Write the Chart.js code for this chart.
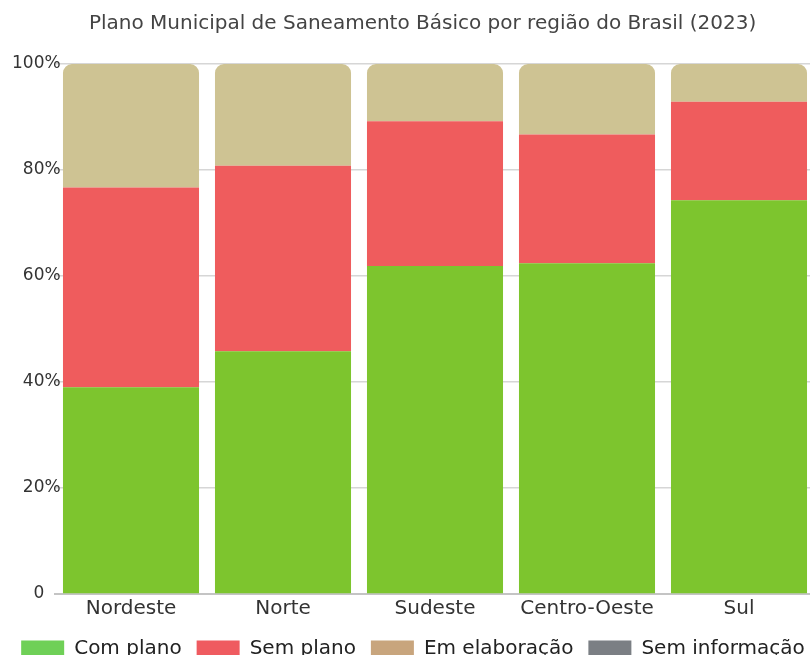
<!DOCTYPE html>
<html>
<head>
<meta charset="utf-8">
<script src="https://cdn.jsdelivr.net/npm/chart.js@4/dist/chart.umd.min.js"></script>
<style>
  html, body { margin: 0; padding: 0; background: #ffffff; overflow: hidden; }
  #wrap { position: absolute; left: 0; top: 0; width: 826px; height: 669px; }
</style>
</head>
<body>
<div id="wrap"><canvas id="c"></canvas></div>
<script>
const titleText = '   Plano Municipal de Saneamento Básico por região do Brasil (2023)';
const regions = ['Nordeste', 'Norte', 'Sudeste', 'Centro-Oeste', 'Sul'];
const comPlano = [39.0, 45.8, 61.9, 62.4, 74.3];
const semPlano = [37.7, 35.0, 27.3, 24.3, 18.6];
const emElaboracao = [23.3, 19.2, 10.8, 13.3, 7.1];
const semInformacao = [0, 0, 0, 0, 0];
const yTicks = [0, 20, 40, 60, 80, 100];

const barColors = ['#7dc52e', '#ef5c5d', '#cec393', '#7d8084'];
const legendColors = ['#6fd057', '#ef5b60', '#c8a57d', '#7b7f84'];
const FONT = 'DejaVu Sans';

new Chart(document.getElementById('c'), {
  type: 'bar',
  data: {
    labels: regions,
    datasets: [
      { label: 'Com plano', data: comPlano, backgroundColor: barColors[0], borderRadius: 0 },
      { label: 'Sem plano', data: semPlano, backgroundColor: barColors[1], borderRadius: 0 },
      { label: 'Em elaboração', data: emElaboracao, backgroundColor: barColors[2],
        borderRadius: { topLeft: 9, topRight: 9, bottomLeft: 0, bottomRight: 0 } },
      { label: 'Sem informação', data: semInformacao, backgroundColor: barColors[3], borderRadius: 0 }
    ]
  },
  options: {
    responsive: true,
    maintainAspectRatio: false,
    animation: false,
    layout: { padding: 0 },
    datasets: { bar: { categoryPercentage: 1.0, barPercentage: 0.895, borderSkipped: 'middle' } },
    scales: {
      x: {
        stacked: true,
        grid: { display: false, drawTicks: false, tickLength: 0 },
        border: { display: true, color: '#c4c4c4', width: 2 },
        ticks: { color: '#333333', font: { family: FONT, size: 20, lineHeight: 0.7 }, padding: 8 }
      },
      y: {
        stacked: true,
        min: 0, max: 100,
        afterFit: (s) => { s.width = 55; },
        afterBuildTicks: (s) => { s.ticks = yTicks.map(v => ({ value: v })); },
        grid: { color: '#d6d6d6', lineWidth: 1.5, drawTicks: false, tickLength: 0 },
        border: { display: false },
        ticks: {
          mirror: true, crossAlign: 'far', padding: -43,
          color: '#333333', font: { family: FONT, size: 17 },
          callback: (v) => v === 0 ? '0   ' : v + '%'
        }
      },
      yRight: {
        position: 'right',
        display: true,
        min: 0, max: 100,
        afterFit: (s) => { s.width = 11; },
        grid: { display: false, drawTicks: false },
        border: { display: false },
        ticks: { display: false }
      }
    },
    plugins: {
      title: {
        display: true, text: titleText, color: '#444444',
        font: { family: FONT, size: 20, weight: 'normal' },
        padding: { top: 12, bottom: 28 }
      },
      legend: {
        position: 'bottom',
        labels: {
          color: '#222222', font: { family: FONT, size: 20 },
          boxWidth: 43, boxHeight: 17, padding: 15,
          generateLabels: (chart) => chart.data.datasets.map((ds, i) => ({
            text: ds.label, fillStyle: legendColors[i], strokeStyle: legendColors[i],
            lineWidth: 0, hidden: false, datasetIndex: i, fontColor: '#222222'
          }))
        }
      },
      tooltip: { enabled: false }
    }
  }
});
</script>
</body>
</html>
